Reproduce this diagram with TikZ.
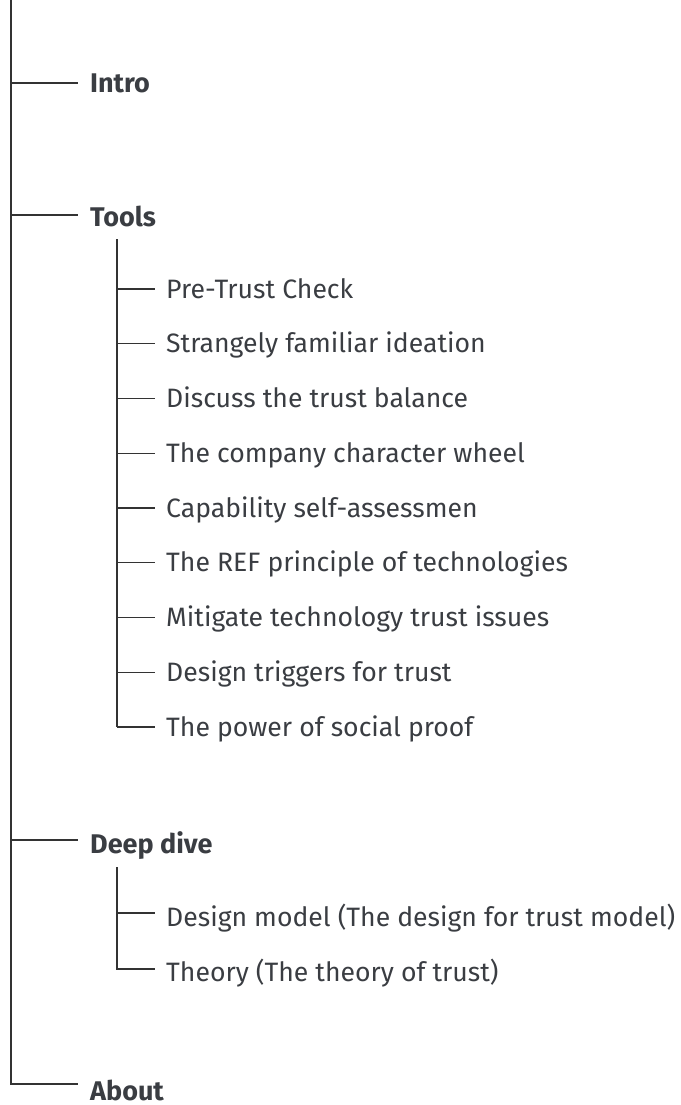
\documentclass[tikz,border=0pt]{standalone}
\usepackage{fontspec}
\setmainfont{Fira Sans}
\definecolor{txt}{HTML}{3A3D42}
\definecolor{ln}{HTML}{333333}
\begin{document}
\begin{tikzpicture}[x=1pt,y=-1pt,
  conn/.style={draw=ln,line width=1.3pt},
  head/.style={anchor=base west,inner sep=0pt,text=txt,font=\fontsize{27}{31}\selectfont\bfseries},
  item/.style={anchor=base west,inner sep=0pt,text=txt,font=\fontsize{26.6}{30}\selectfont}]
\useasboundingbox (0,0) rectangle (680,1105);
\coordinate (top) at (11,0);
\coordinate (bot) at (11,1084);
% headings
\node[head] (intro) at (90,92.5) {Intro};
\node[head] (tools) at (90,226) {Tools};
\node[head] (deep) at (90,853) {Deep dive};
\node[head] (about) at (90,1100) {About};
\coordinate (jintro) at (11,83);
\coordinate (eintro) at (78,83);
\coordinate (jtools) at (11,215);
\coordinate (etools) at (78,215);
\coordinate (jdeep) at (11,840);
\coordinate (edeep) at (78,840);
\coordinate (eabout) at (78,1084);
\draw[conn] (top) -- (bot) -- (eabout);
\draw[conn] (jintro) -- (eintro);
\draw[conn] (jtools) -- (etools);
\draw[conn] (jdeep) -- (edeep);
% tools items
\coordinate (tstart) at (117,239);
\foreach \i/\t in {0/Pre-Trust Check,1/Strangely familiar ideation,2/Discuss the trust balance,3/The company character wheel,4/Capability self-assessmen,5/The REF principle of technologies,6/Mitigate technology trust issues,7/Design triggers for trust,8/The power of social proof}{
  \pgfmathsetmacro{\yy}{289+54.75*\i}
  \coordinate (tj\i) at (117,\yy);
  \coordinate (te\i) at (155,\yy);
  \node[item] (t\i) at (166,\yy+9) {\t};
  \draw[conn] (tj\i) -- (te\i);
}
\draw[conn] (tstart) -- (tj8);
% deep dive items
\coordinate (dstart) at (117,867);
\coordinate (dj0) at (117,913);
\coordinate (de0) at (155,913);
\coordinate (dj1) at (117,969);
\coordinate (de1) at (155,969);
\node[item] (d0) at (166,926) {Design model (The design for trust model)};
\node[item] (d1) at (166,981) {Theory (The theory of trust)};
\draw[conn] (dstart) -- (dj1) -- (de1);
\draw[conn] (dj0) -- (de0);
\end{tikzpicture}
\end{document}
